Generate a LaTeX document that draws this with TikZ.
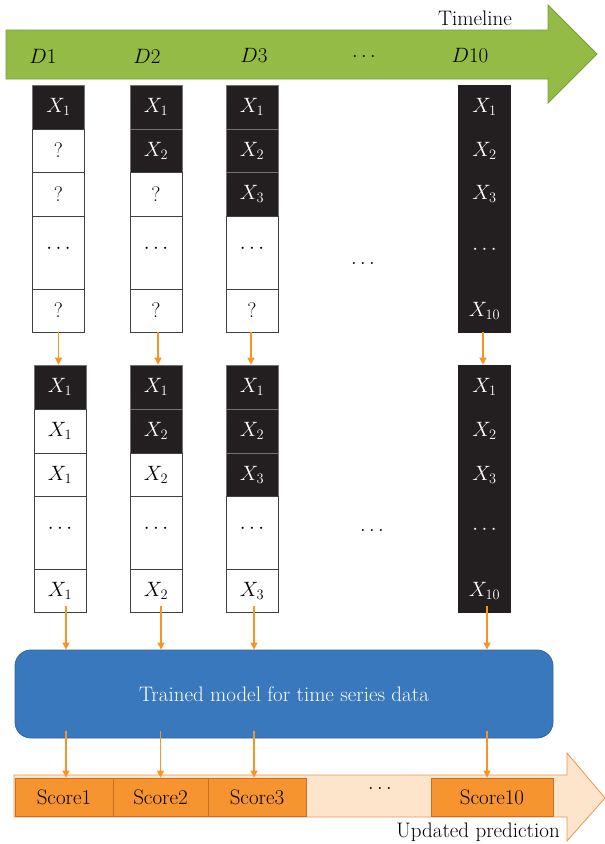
\documentclass[tikz,border=0pt]{standalone}
\usetikzlibrary{arrows.meta}
\definecolor{tlgreen}{RGB}{147,187,70}
\definecolor{tlgreenb}{RGB}{120,160,55}
\definecolor{cdark}{RGB}{35,31,32}
\definecolor{mblue}{RGB}{57,120,189}
\definecolor{mblueb}{RGB}{45,100,160}
\definecolor{aorange}{RGB}{247,148,35}
\definecolor{sorange}{RGB}{246,148,48}
\definecolor{sorangeb}{RGB}{200,110,40}
\definecolor{peach}{RGB}{253,229,204}
\definecolor{peachb}{RGB}{230,150,80}
\begin{document}
\begin{tikzpicture}[x=1pt,y=-1pt,
  every node/.style={font=\fontsize{21}{25}\selectfont},
  cellw/.style={draw=black!75, line width=0.8pt, fill=white, inner sep=0pt, minimum width=52pt, text=black},
  celld/.style={draw=black!55, line width=0.6pt, fill=cdark, inner sep=0pt, minimum width=52pt, text=white},
  h44/.style={minimum height=44pt},
  h43/.style={minimum height=43pt},
  h73/.style={minimum height=73pt},
  arr/.style={draw=aorange, line width=1.3pt, -{Triangle[width=7pt,length=7pt]}},
  scorebox/.style={draw=sorangeb, line width=0.8pt, fill=sorange, inner sep=0pt, minimum height=38pt, text=black}
]
\useasboundingbox (0,0) rectangle (605,844);
% timeline arrow
\draw[fill=tlgreen, draw=tlgreenb, line width=0.8pt] (6,30) -- (548,30) -- (548,5) -- (597,54) -- (548,103) -- (548,79) -- (6,79) -- cycle;
\node[anchor=base east, inner sep=0pt] (tl) at (512,25) {Timeline};
\node (d1) at (43,56) {$D$1};
\node (d2) at (147,56) {$D$2};
\node (d3) at (254,56) {$D$3};
\node (dd) at (364,56) {$\ldots$};
\node (d10) at (470,56) {$D$10};

% ---------- top group ----------
% column 1
\node[celld,h44] (a11) at (58.5,107) {$X_1$};
\node[cellw,h43] (a12) at (58.5,150.5) {?};
\node[cellw,h44] (a13) at (58.5,194) {?};
\node[cellw,h73] (a14) at (58.5,252.5) {\raisebox{8pt}{$\cdots$}};
\node[cellw,h43] (a15) at (58.5,310.5) {?};
% column 2
\node[celld,h44] (a21) at (156,107) {$X_1$};
\node[celld,h43] (a22) at (156,150.5) {$X_2$};
\node[cellw,h44] (a23) at (156,194) {?};
\node[cellw,h73] (a24) at (156,252.5) {\raisebox{8pt}{$\cdots$}};
\node[cellw,h43] (a25) at (156,310.5) {?};
% column 3
\node[celld,h44] (a31) at (252,107) {$X_1$};
\node[celld,h43] (a32) at (252,150.5) {$X_2$};
\node[celld,h44] (a33) at (252,194) {$X_3$};
\node[cellw,h73] (a34) at (252,252.5) {\raisebox{8pt}{$\cdots$}};
\node[cellw,h43] (a35) at (252,310.5) {?};
% column 4
\node[celld,h44,draw=cdark] (a41) at (484.5,107) {$X_1$};
\node[celld,h43,draw=cdark] (a42) at (484.5,150.5) {$X_2$};
\node[celld,h44,draw=cdark] (a43) at (484.5,194) {$X_3$};
\node[celld,h73,draw=cdark] (a44) at (484.5,252.5) {\raisebox{6pt}{$\cdots$}};
\node[celld,h43,draw=cdark] (a45) at (484.5,310.5) {\raisebox{-3pt}{$X_{10}$}};
\node (adots) at (363,263) {$\ldots$};

% ---------- bottom group ----------
% column 1
\node[celld,h44] (b11) at (60,387) {$X_1$};
\node[cellw,h44] (b12) at (60,431) {$X_1$};
\node[cellw,h43] (b13) at (60,474.5) {$X_1$};
\node[cellw,h73] (b14) at (60,532.5) {\raisebox{8pt}{$\cdots$}};
\node[cellw,h43] (b15) at (60,590.5) {$X_1$};
% column 2
\node[celld,h44] (b21) at (156,387) {$X_1$};
\node[celld,h44] (b22) at (156,431) {$X_2$};
\node[cellw,h43] (b23) at (156,474.5) {$X_2$};
\node[cellw,h73] (b24) at (156,532.5) {\raisebox{8pt}{$\cdots$}};
\node[cellw,h43] (b25) at (156,590.5) {\raisebox{-5pt}{$X_2$}};
% column 3
\node[celld,h44] (b31) at (252,387) {$X_1$};
\node[celld,h44] (b32) at (252,431) {$X_2$};
\node[celld,h43] (b33) at (252,474.5) {$X_3$};
\node[cellw,h73] (b34) at (252,532.5) {\raisebox{8pt}{$\cdots$}};
\node[cellw,h43] (b35) at (252,590.5) {$X_3$};
% column 4
\node[celld,h44,draw=cdark] (b41) at (484.5,387) {$X_1$};
\node[celld,h44,draw=cdark] (b42) at (484.5,431) {$X_2$};
\node[celld,h43,draw=cdark] (b43) at (484.5,474.5) {$X_3$};
\node[celld,h73,draw=cdark] (b44) at (484.5,532.5) {\raisebox{6pt}{$\cdots$}};
\node[celld,h43,draw=cdark] (b45) at (484.5,590.5) {\raisebox{-3pt}{$X_{10}$}};
\node (bdots) at (372,530) {$\ldots$};

% arrows top -> bottom group
\draw[arr] (a15.south) -- (b11.north -| a15.south);
\draw[arr] ([xshift=2pt]a25.south) -- ([xshift=2pt]b21.north);
\draw[arr] ([xshift=-1pt]a35.south) -- ([xshift=-1pt]b31.north);
\draw[arr] ([xshift=-1.5pt]a45.south) -- ([xshift=-1.5pt]b41.north);

% model box
\node[draw=mblueb, line width=0.8pt, fill=mblue, rounded corners=16pt, minimum width=538pt, minimum height=88pt, text=white] (model) at (284,694) {Trained model for time series data};

% arrows bottom group -> model
\draw[arr] ([xshift=6pt,yshift=6pt]b15.south) -- ([xshift=6pt]b15.south |- model.north);
\draw[arr] ([xshift=5pt,yshift=6pt]b25.south) -- ([xshift=5pt]b25.south |- model.north);
\draw[arr] ([xshift=2pt,yshift=6pt]b35.south) -- ([xshift=2pt]b35.south |- model.north);
\draw[arr] ([xshift=2.5pt,yshift=6pt]b45.south) -- ([xshift=2.5pt]b45.south |- model.north);

% prediction arrow
\draw[fill=peach, draw=peachb, line width=0.8pt] (14,775) -- (567,775) -- (567,753) -- (605,798) -- (567,841) -- (567,817) -- (14,817) -- cycle;
\node[scorebox, minimum width=98pt] (s1) at (64,797) {Score1};
\node[scorebox, minimum width=95pt] (s2) at (160.5,797) {Score2};
\node[scorebox, minimum width=98pt] (s3) at (257,797) {Score3};
\node[scorebox, minimum width=122pt] (s10) at (492,797) {Score10};
\node (sdots) at (380,788) {$\ldots$};
\node[anchor=base east, inner sep=0pt] (up) at (560,837) {Updated prediction};

% arrows model -> scores
\draw[arr] ([yshift=7pt]model.south -| s1.north) ++(2pt,0) -- ([xshift=2pt]s1.north);
\draw[arr] ([yshift=7pt]model.south -| s2.north) -- (s2.north);
\draw[arr] ([yshift=7pt]model.south -| s3.north) ++(-3pt,0) -- ([xshift=-3pt]s3.north);
\draw[arr] ([yshift=7pt]model.south -| s10.north) ++(-5pt,0) -- ([xshift=-5pt]s10.north);
\end{tikzpicture}
\end{document}
